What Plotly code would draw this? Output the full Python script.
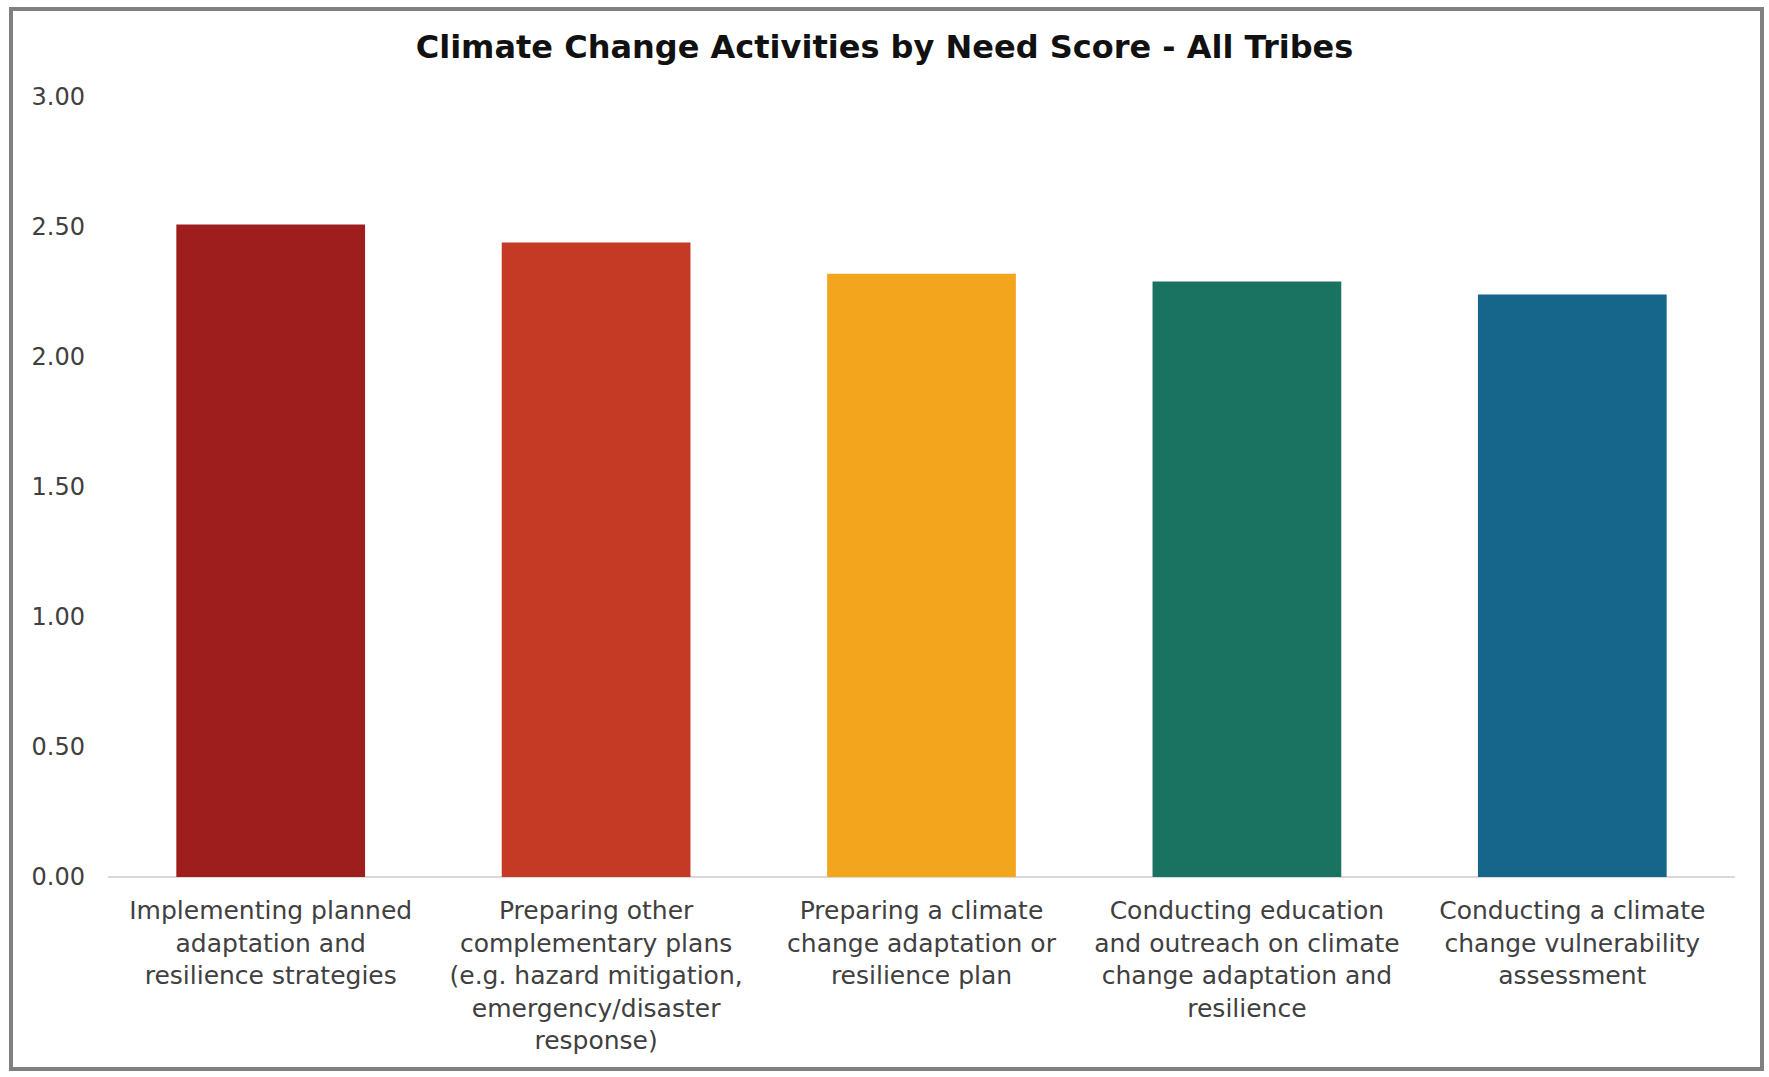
import plotly.graph_objects as go

categories = [
    "Implementing planned<br>adaptation and<br>resilience strategies",
    "Preparing other<br>complementary plans<br>(e.g. hazard mitigation,<br>emergency/disaster<br>response)",
    "Preparing a climate<br>change adaptation or<br>resilience plan",
    "Conducting education<br>and outreach on climate<br>change adaptation and<br>resilience",
    "Conducting a climate<br>change vulnerability<br>assessment",
]
scores = [2.51, 2.44, 2.32, 2.29, 2.24]
colors = ["#9E1E1E", "#C43A25", "#F4A51E", "#1A7261", "#15668A"]
y_ticks = [0, 0.5, 1.0, 1.5, 2.0, 2.5, 3.0]
title_text = "Climate Change Activities by Need Score - All Tribes"

W, H = 1769, 1077
L, R, T, B = 108, 34, 97, 200
pw, ph = W - L - R, H - T - B

def px_to_paper_x(px):
    return (px - L) / pw

def px_to_paper_y(py):
    return (H - B - py) / ph

fig = go.Figure(go.Bar(
    x=categories, y=scores, marker=dict(color=colors, line=dict(width=0)),
    width=0.58,
))

fig.update_layout(
    width=W, height=H,
    margin=dict(l=L, r=R, t=T, b=B),
    paper_bgcolor="white", plot_bgcolor="white",
    showlegend=False,
    font=dict(family="DejaVu Sans", color="#3a3a3a"),
    title=dict(text="<b>" + title_text + "</b>", x=0.5, xref="container",
               y=1 - 47 / H, yref="container", yanchor="middle", xanchor="center",
               font=dict(family="DejaVu Sans", size=32, color="#111111")),
    xaxis=dict(showgrid=False, showline=False, ticks="",
               tickfont=dict(family="DejaVu Sans", size=25, color="#404040"), tickangle=0,
               ticklabelstandoff=16),
    yaxis=dict(range=[0, 3.0], tickvals=y_ticks, tickformat=".2f",
               showgrid=False, zeroline=True, zerolinecolor="#d9d9d9", zerolinewidth=2,
               showline=False, ticks="", ticklabelstandoff=22,
               tickfont=dict(family="DejaVu Sans", size=24, color="#404040")),
    shapes=[dict(type="rect", xref="paper", yref="paper",
                 x0=px_to_paper_x(11), x1=px_to_paper_x(1762),
                 y0=px_to_paper_y(1069), y1=px_to_paper_y(9),
                 line=dict(color="#808080", width=4), fillcolor="rgba(0,0,0,0)", layer="below")],
)

fig.write_html("out.html", config={"displayModeBar": False},
               post_script="document.body.style.margin='0px';")
